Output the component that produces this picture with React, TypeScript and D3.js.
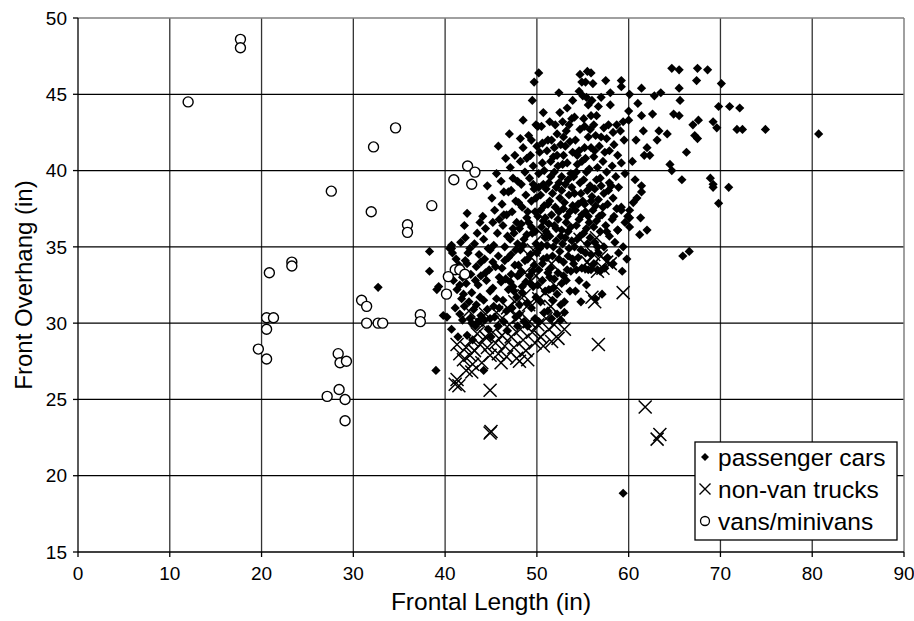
import React from "react";
import * as d3 from "d3";

const xTicks = [0, 10, 20, 30, 40, 50, 60, 70, 80, 90];
const yTicks = [15, 20, 25, 30, 35, 40, 45, 50];
const seriesNames = ["passenger cars", "non-van trucks", "vans/minivans"];

const passengerCars: [number, number][] = [
  // sparse left
  [32.7, 32.35], [39.0, 26.9], [44.2, 26.9], [38.3, 34.7], [38.3, 33.4], [39.3, 32.4], [39.1, 32.2], [42.4, 37.2],
  [40.7, 34.9], [40.7, 35.1], [42.5, 34.6], [39.8, 30.5], [40.2, 30.4], [40.7, 29.6],
  // 40-42
  [40.5, 34.9], [40.8, 34.6], [41.2, 34.2], [41.5, 33.8], [40.9, 32.8], [41.3, 32.2], [41.8, 31.6], [41.1, 31.0],
  [41.6, 30.6], [41.9, 30.2], [41.4, 29.1], [41.7, 35.3], [41.9, 33.0], [42.0, 31.9],
  // 42-44
  [42.2, 35.6], [42.4, 33.9], [42.8, 33.2], [42.3, 32.6], [42.9, 32.0], [42.6, 31.4], [43.1, 30.9], [42.7, 30.3],
  [43.3, 29.8], [43.5, 35.9], [43.2, 35.2], [43.7, 34.5], [43.4, 33.7], [43.9, 33.1], [43.6, 32.5], [43.8, 31.7],
  [43.4, 31.2], [43.9, 30.5], [42.4, 29.2], [43.0, 28.9], [42.1, 36.4], [43.8, 36.6],
  // 44-46
  [44.1, 37.0], [44.4, 36.2], [44.2, 35.5], [44.7, 34.9], [44.3, 34.2], [44.8, 33.5], [44.5, 32.8], [44.9, 32.1],
  [44.2, 31.5], [44.6, 30.9], [44.9, 30.3], [45.1, 38.2], [45.4, 37.4], [45.2, 36.6], [45.7, 35.9], [45.3, 35.1],
  [45.8, 34.4], [45.5, 33.7], [45.9, 33.0], [45.2, 32.3], [45.6, 31.6], [45.9, 31.0], [45.4, 30.4], [45.8, 29.8],
  [44.7, 29.6], [45.0, 29.1], [45.8, 41.6], [44.6, 39.0], [45.6, 39.8],
  // 46-48
  [46.1, 39.3], [46.4, 38.6], [46.2, 37.8], [46.7, 37.1], [46.3, 36.4], [46.8, 35.7], [46.5, 35.0], [46.9, 34.3],
  [46.2, 33.6], [46.6, 32.9], [46.9, 32.2], [46.3, 31.5], [46.7, 30.8], [46.4, 30.1], [47.0, 42.4], [47.1, 40.2],
  [47.4, 39.5], [47.2, 38.7], [47.7, 38.0], [47.3, 37.3], [47.8, 36.6], [47.5, 35.9], [47.9, 35.2], [47.2, 34.5],
  [47.6, 33.8], [47.9, 33.1], [47.4, 32.4], [47.8, 31.7], [47.3, 31.0], [47.7, 30.4], [46.8, 29.5], [47.9, 29.8],
  [46.6, 40.8], [47.6, 41.0],
  // 48-50
  [48.5, 43.3], [48.5, 41.5], [48.2, 40.6], [48.7, 39.9], [48.3, 39.1], [48.8, 38.4], [48.4, 37.6], [48.9, 36.9],
  [48.1, 36.2], [48.6, 35.5], [48.2, 34.8], [48.7, 34.1], [48.3, 33.4], [48.8, 32.7], [48.4, 32.0], [48.9, 31.3],
  [48.1, 30.6], [48.6, 30.1], [49.1, 42.3], [49.5, 44.6], [49.7, 45.8], [50.2, 46.4], [49.3, 41.0], [49.6, 40.3],
  [49.2, 39.5], [49.7, 38.8], [49.4, 38.0], [49.8, 37.3], [49.1, 36.6], [49.5, 35.9], [49.9, 35.2], [49.3, 34.5],
  [49.7, 33.8], [49.2, 33.1], [49.6, 32.4], [49.9, 31.7], [49.4, 31.0], [49.8, 30.3], [49.0, 29.8], [50.0, 41.6],
  [49.9, 43.0],
  // 50-52
  [50.1, 42.9], [50.5, 42.9], [50.3, 41.2], [50.6, 40.5], [50.2, 39.8], [50.7, 39.1], [50.4, 38.4], [50.8, 37.7],
  [50.1, 37.0], [50.5, 36.3], [50.9, 35.6], [50.3, 34.9], [50.7, 34.2], [50.2, 33.5], [50.6, 32.8], [50.9, 32.1],
  [50.4, 31.4], [50.8, 30.7], [50.2, 30.1], [51.2, 42.0], [51.6, 42.0], [51.1, 41.3], [51.5, 40.6], [51.9, 39.9],
  [51.3, 39.2], [51.7, 38.5], [51.2, 37.8], [51.6, 37.1], [51.9, 36.4], [51.4, 35.7], [51.8, 35.0], [51.1, 34.3],
  [51.5, 33.6], [51.9, 32.9], [51.3, 32.2], [51.7, 31.5], [51.2, 30.8], [51.6, 30.3], [51.8, 40.9], [51.4, 38.0],
  [50.9, 36.9], [51.1, 35.1], [50.6, 33.9], [51.4, 33.0],
  // 52-54
  [52.0, 43.0], [52.4, 45.1], [52.5, 43.8], [52.8, 43.2], [52.2, 42.4], [52.6, 41.7], [52.9, 41.0], [52.3, 40.3],
  [52.7, 39.6], [52.1, 38.9], [52.5, 38.2], [52.9, 37.5], [52.3, 36.8], [52.7, 36.1], [52.1, 35.4], [52.5, 34.7],
  [52.9, 34.0], [52.3, 33.3], [52.7, 32.6], [52.2, 31.9], [52.6, 31.2], [53.0, 30.7], [52.2, 30.6], [52.6, 30.2],
  [53.9, 44.6], [53.8, 43.4], [53.2, 42.6], [53.6, 41.9], [53.9, 41.2], [53.3, 40.5], [53.7, 39.8], [53.1, 39.1],
  [53.5, 38.4], [53.9, 37.7], [53.3, 37.0], [53.7, 36.3], [53.1, 35.6], [53.5, 34.9], [53.9, 34.2], [53.3, 33.5],
  [53.7, 33.4], [53.2, 32.8], [53.6, 32.1], [53.0, 31.4], [52.4, 39.2], [53.0, 37.9], [52.8, 35.2], [53.4, 36.0],
  [52.0, 37.6],
  // 54-56
  [54.7, 46.3], [54.6, 45.2], [55.0, 44.9], [55.1, 43.4], [54.7, 42.7], [54.2, 42.0], [54.6, 41.3], [54.9, 40.6],
  [54.3, 39.9], [54.7, 39.2], [54.1, 38.5], [54.5, 37.8], [54.9, 37.1], [54.3, 36.4], [54.7, 35.7], [54.1, 35.0],
  [54.5, 34.3], [54.9, 33.6], [54.3, 33.5], [54.6, 32.8], [54.2, 32.1], [55.5, 46.5], [55.9, 46.4], [56.1, 45.7],
  [55.3, 45.8], [55.6, 44.3], [55.9, 43.6], [55.2, 42.9], [55.6, 42.2], [55.9, 41.5], [55.3, 40.8], [55.7, 40.1],
  [55.1, 39.4], [55.5, 38.7], [55.9, 38.0], [55.3, 37.3], [55.7, 36.6], [55.1, 35.9], [55.5, 35.2], [55.9, 34.5],
  [55.2, 33.6], [55.6, 33.5], [55.9, 33.5], [55.4, 32.5], [54.8, 31.4], [54.4, 41.0], [55.0, 38.0], [55.4, 36.2],
  // 56-58
  [56.5, 43.6], [56.2, 43.0], [56.4, 42.3], [56.8, 41.6], [56.2, 40.9], [56.6, 40.2], [56.9, 39.5], [56.3, 38.8],
  [56.7, 38.1], [56.1, 37.4], [56.5, 36.7], [56.9, 36.0], [56.3, 35.3], [56.7, 34.6], [56.2, 33.9], [56.6, 33.5],
  [56.9, 33.4], [57.5, 45.9], [57.0, 44.8], [57.3, 42.8], [57.6, 42.1], [57.9, 41.3], [57.2, 40.6], [57.6, 39.9],
  [57.9, 39.2], [57.3, 38.5], [57.7, 37.8], [57.1, 37.1], [57.5, 36.4], [57.9, 35.7], [57.3, 35.0], [57.7, 34.3],
  [57.4, 33.6], [58.0, 45.1], [58.0, 44.3], [57.8, 43.0], [56.4, 31.6], [57.1, 31.9],
  // 58-60
  [58.3, 42.5], [58.7, 43.0], [58.4, 41.7], [58.8, 41.0], [58.2, 40.3], [58.6, 39.6], [58.9, 38.9], [58.3, 38.2],
  [58.7, 37.5], [58.8, 36.1], [58.2, 36.8], [58.5, 35.3], [58.9, 34.6], [58.3, 33.9], [59.2, 45.9], [59.2, 45.5],
  [59.4, 43.2], [59.1, 42.6], [59.5, 42.0], [59.2, 40.5], [59.6, 39.8], [59.2, 37.4], [59.6, 36.6], [59.9, 37.0],
  [59.4, 35.0], [59.8, 34.2], [59.3, 33.4], [60.1, 45.0], [60.0, 43.9], [60.0, 43.3], [59.4, 18.85],
  // 60+ sparse
  [64.7, 46.7], [65.5, 46.6], [67.5, 46.7], [68.6, 46.6], [67.4, 45.9], [70.1, 45.7], [61.4, 45.4], [65.5, 45.4],
  [63.5, 45.1], [65.6, 44.6], [69.8, 44.2], [71.0, 44.2], [72.1, 44.1], [61.4, 43.6], [62.6, 43.7], [64.9, 43.7],
  [65.5, 43.6], [67.6, 43.3], [67.0, 43.0], [69.2, 43.2], [69.6, 42.8], [71.8, 42.7], [72.4, 42.7], [74.9, 42.7],
  [80.7, 42.4], [61.6, 42.6], [63.3, 42.6], [64.2, 42.4], [63.1, 42.0], [67.2, 42.3], [67.5, 42.1], [66.3, 41.2],
  [62.0, 41.5], [62.3, 41.0], [61.7, 41.0], [64.5, 40.4], [64.7, 40.0], [65.8, 39.4], [68.9, 39.5], [69.2, 39.1],
  [69.2, 38.9], [70.9, 38.9], [69.8, 37.85], [61.4, 39.0], [61.4, 38.6], [60.9, 38.2], [60.5, 37.9], [60.1, 37.4],
  [60.1, 36.9], [60.1, 36.3], [59.2, 37.6], [58.8, 36.1], [65.9, 34.4], [66.6, 34.7], [61.2, 35.8], [62.0, 36.1],
  [60.8, 42.0], [61.0, 44.4], [62.8, 44.9], [60.4, 40.6], [60.7, 39.4], [61.3, 36.9],
  // dense core, extra
  [47.1, 35.5], [47.4, 36.2], [47.7, 34.8], [47.2, 33.2], [47.5, 32.1], [48.0, 37.9], [48.3, 36.5], [48.5, 35.1],
  [48.0, 33.8], [48.4, 32.4], [48.1, 31.2], [48.9, 35.8], [49.0, 34.2], [49.3, 32.6], [49.0, 37.3], [49.4, 36.3],
  [49.6, 39.1], [49.9, 38.2], [49.8, 36.0], [49.5, 33.4], [50.0, 34.6], [50.1, 32.5], [50.5, 35.1], [50.4, 37.4],
  [50.7, 36.7], [50.2, 38.9], [50.8, 40.0], [50.6, 41.8], [51.0, 38.8], [51.3, 36.5], [51.0, 36.0], [51.7, 34.4],
  [51.2, 33.3], [51.8, 32.3], [51.5, 39.6], [51.9, 41.5], [52.2, 41.0], [52.4, 37.3], [52.7, 38.7], [52.1, 36.2],
  [52.6, 35.7], [52.4, 34.2], [52.9, 33.1], [52.8, 40.4], [53.1, 41.6], [53.4, 39.4], [53.6, 37.3], [53.2, 36.6],
  [53.8, 35.4], [53.4, 34.4], [53.8, 38.9], [53.5, 43.0], [54.1, 43.5], [54.4, 40.4], [54.0, 39.6], [54.2, 37.4],
  [54.6, 36.8], [54.8, 38.5], [54.4, 35.5], [54.8, 34.8], [54.0, 33.9], [55.2, 41.5], [55.4, 39.9], [55.8, 39.0],
  [55.2, 37.8], [55.6, 37.0], [55.8, 35.6], [55.3, 34.6], [55.8, 42.7], [56.0, 44.6], [56.3, 41.3], [56.5, 39.4],
  [56.0, 38.3], [56.4, 37.7], [56.8, 37.0], [56.2, 36.3], [56.6, 35.0], [57.0, 39.0], [57.4, 41.2], [57.2, 37.6],
  [57.6, 36.0], [57.8, 38.7], [58.1, 39.0], [58.4, 37.0], [57.0, 42.2], [56.7, 44.2], [55.4, 44.8], [54.9, 45.8],
  [53.3, 44.1], [52.9, 42.2], [51.4, 43.2], [50.7, 43.8], [49.4, 42.0], [48.9, 40.8], [48.2, 42.1], [47.9, 39.3],
  [46.9, 38.6], [46.4, 37.1], [45.9, 36.8], [45.2, 34.0], [44.9, 34.8], [44.4, 33.3], [43.9, 34.0], [43.3, 32.8],
  [42.7, 34.9], [42.2, 34.1], [41.6, 32.5], [42.1, 31.1], [42.9, 30.0], [43.7, 30.1], [44.3, 30.2], [45.3, 31.1],
  [46.1, 32.7], [46.5, 34.1], [47.1, 32.7],
];

const nonVanTrucks: [number, number][] = [
  [41.3, 28.6], [41.6, 28.0], [42.0, 27.6], [42.3, 28.4], [42.7, 27.9], [42.9, 28.9], [43.2, 28.2], [43.5, 29.3],
  [43.8, 28.6], [44.1, 29.9], [44.4, 29.1], [44.6, 28.4], [44.9, 27.9], [45.2, 29.4], [45.5, 28.7], [45.8, 28.0],
  [46.0, 30.2], [46.2, 29.2], [46.5, 28.5], [46.7, 27.8], [47.0, 29.9], [47.2, 29.1], [47.5, 28.4], [47.8, 27.7],
  [48.0, 30.4], [48.2, 29.6], [48.5, 28.9], [48.8, 28.2], [49.0, 27.6], [49.2, 30.1], [49.5, 29.4], [49.8, 28.7],
  [50.1, 29.9], [50.4, 29.1], [50.7, 28.5], [51.0, 30.3], [51.3, 29.6], [51.6, 28.8], [51.9, 29.9], [52.3, 29.0],
  [52.6, 30.4], [53.0, 29.6], [49.1, 31.2], [48.6, 31.8], [47.6, 31.4], [46.8, 31.0], [45.6, 30.7], [44.4, 30.6],
  [43.4, 30.2], [42.6, 30.8], [50.2, 31.6], [50.9, 32.0], [51.5, 31.1], [48.1, 27.5], [46.1, 27.4], [44.0, 27.4],
  [43.0, 27.3], [42.3, 26.9], [42.9, 26.8], [41.3, 26.3], [41.5, 25.9], [41.1, 26.0], [44.9, 25.6], [44.9, 22.8],
  [45.0, 22.9], [49.2, 34.4], [49.6, 34.8], [50.6, 35.8], [48.7, 33.3], [51.6, 33.9], [49.9, 33.1], [52.1, 32.4],
  [54.7, 35.5], [56.5, 35.6], [56.2, 34.5], [55.5, 34.0], [55.9, 33.7], [56.6, 33.4], [57.2, 33.6], [57.6, 34.0],
  [58.0, 33.9], [57.0, 34.4], [56.0, 31.7], [56.3, 31.4], [59.4, 32.0], [56.7, 28.6], [61.8, 24.5], [63.1, 22.4],
  [63.4, 22.7],
];

const vansMinivans: [number, number][] = [
  [17.7, 48.6], [17.7, 48.05], [12.0, 44.5], [34.6, 42.8], [32.2, 41.55], [27.6, 38.65], [31.95, 37.3],
  [23.3, 34.0], [23.3, 33.75], [20.85, 33.3], [30.9, 31.5], [31.45, 31.1], [20.55, 30.35], [21.3, 30.35],
  [20.55, 29.6], [31.45, 30.0], [32.7, 30.0], [33.2, 30.0], [19.65, 28.3], [20.55, 27.65], [28.35, 28.0],
  [28.55, 27.4], [29.25, 27.5], [28.45, 25.65], [27.15, 25.2], [29.1, 25.0], [29.1, 23.6],
  [42.45, 40.3], [43.25, 39.9], [40.95, 39.4], [42.9, 39.1], [38.55, 37.7], [35.9, 36.45], [35.9, 35.95],
  [41.1, 33.5], [41.6, 33.5], [42.15, 33.2], [40.35, 33.05], [40.15, 31.9], [37.3, 30.55], [37.3, 30.1],
];

const W = 914;
const H = 621;
const FONT = "'Liberation Sans', Arial, sans-serif";

export default function App() {
  const x = d3.scaleLinear().domain([0, 90]).range([78, 904]);
  const y = d3.scaleLinear().domain([15, 50]).range([552, 18]);
  const dh = 4.6;
  const xh = 6.5;
  const cr = 5;

  const diamond = (cx: number, cy: number, h: number) =>
    `M${cx},${cy - h}L${cx + h},${cy}L${cx},${cy + h}L${cx - h},${cy}Z`;
  const cross = (cx: number, cy: number, h: number) =>
    `M${cx - h},${cy - h}L${cx + h},${cy + h}M${cx - h},${cy + h}L${cx + h},${cy - h}`;

  const legX = 695, legY = 442, legW = 202, legH = 98;
  const rowY = [457, 489, 521];

  return (
    <svg width={W} height={H} style={{ position: "absolute", left: 0, top: 0, background: "#fff" }}
      fontFamily={FONT}>
      <rect x={0} y={0} width={W} height={H} fill="#fff" />
      {xTicks.slice(1, -1).map((t) => (
        <line key={"gx" + t} x1={x(t)} x2={x(t)} y1={y(50)} y2={y(15)} stroke="#333" strokeWidth={1.3} />
      ))}
      {yTicks.slice(1, -1).map((t) => (
        <line key={"gy" + t} x1={x(0)} x2={x(90)} y1={y(t)} y2={y(t)} stroke="#000" strokeWidth={1.3} />
      ))}
      <line x1={x(0)} x2={x(90)} y1={y(50)} y2={y(50)} stroke="#808080" strokeWidth={1.5} />
      <line x1={x(90)} x2={x(90)} y1={y(50)} y2={y(15)} stroke="#808080" strokeWidth={1.5} />
      <line x1={x(0)} x2={x(0)} y1={y(50)} y2={y(15)} stroke="#000" strokeWidth={1.3} />
      <line x1={x(0)} x2={x(90)} y1={y(15)} y2={y(15)} stroke="#000" strokeWidth={1.3} />
      {xTicks.map((t) => (
        <g key={"xt" + t}>
          <line x1={x(t)} x2={x(t)} y1={y(15)} y2={y(15) + 5} stroke="#000" strokeWidth={1.3} />
          <text x={x(t)} y={580} textAnchor="middle" fontSize={19} fill="#000">{t}</text>
        </g>
      ))}
      {yTicks.map((t) => (
        <g key={"yt" + t}>
          <line x1={x(0) - 5} x2={x(0)} y1={y(t)} y2={y(t)} stroke="#000" strokeWidth={1.3} />
          <text x={67} y={y(t)} dy="0.35em" textAnchor="end" fontSize={19} fill="#000">{t}</text>
        </g>
      ))}
      <text x={(x(0) + x(90)) / 2} y={610} textAnchor="middle" fontSize={24.5} fill="#000">Frontal Length (in)</text>
      <text transform={`translate(32,${(y(15) + y(50)) / 2}) rotate(-90)`} textAnchor="middle" fontSize={24} fill="#000">
        Front Overhang (in)
      </text>
      <g>
        {passengerCars.map(([a, b], i) => (
          <path key={"p" + i} d={diamond(x(a), y(b), dh)} fill="#000" />
        ))}
      </g>
      <g>
        {nonVanTrucks.map(([a, b], i) => (
          <path key={"t" + i} d={cross(x(a), y(b), xh)} stroke="#000" strokeWidth={1.5} fill="none" />
        ))}
      </g>
      <g>
        {vansMinivans.map(([a, b], i) => (
          <circle key={"v" + i} cx={x(a)} cy={y(b)} r={cr} fill="#fff" stroke="#000" strokeWidth={1.4} />
        ))}
      </g>
      <rect x={legX} y={legY} width={legW} height={legH} fill="#fff" stroke="#000" strokeWidth={1.3} />
      <path d={diamond(705, rowY[0], 4)} fill="#000" />
      <path d={cross(705, rowY[1], 5.5)} stroke="#000" strokeWidth={1.4} fill="none" />
      <circle cx={705} cy={rowY[2]} r={4.5} fill="#fff" stroke="#000" strokeWidth={1.3} />
      {seriesNames.map((s, i) => (
        <text key={s} x={718} y={rowY[i]} dy="0.35em" fontSize={24.5} fill="#000">{s}</text>
      ))}
    </svg>
  );
}
